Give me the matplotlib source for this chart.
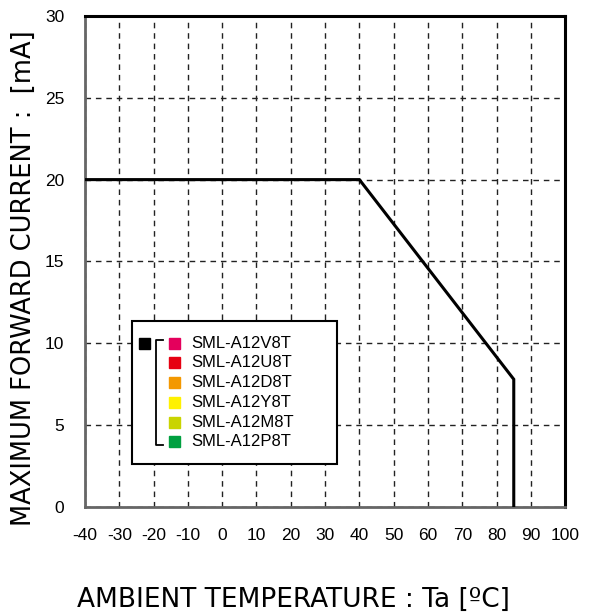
import matplotlib
matplotlib.use("Agg")
import matplotlib.pyplot as plt
from matplotlib.patches import Rectangle

matplotlib.rcParams["axes.unicode_minus"] = False

# derating curve
temp_c = [-40, 40, 85, 85]
current_ma = [20, 20, 7.8, 0]

x_ticks = list(range(-40, 101, 10))
y_ticks = list(range(0, 31, 5))

legend_names = ["SML-A12V8T", "SML-A12U8T", "SML-A12D8T",
                "SML-A12Y8T", "SML-A12M8T", "SML-A12P8T"]
legend_colors = ["#E4005C", "#E60012", "#F39800", "#FFF100", "#C9D400", "#00A040"]

fig = plt.figure(figsize=(5.9, 6.13), dpi=100)
ax = fig.add_axes([0.144, 0.173, 0.814, 0.801])

ax.plot(temp_c, current_ma, color="black", lw=2.2, solid_joinstyle="miter",
        zorder=5)

ax.set_xlim(-40, 100)
ax.set_ylim(0, 30)
ax.set_xticks(x_ticks)
ax.set_yticks(y_ticks)
ax.tick_params(length=0, labelsize=12.5, pad=15)
for lab in ax.get_xticklabels() + ax.get_yticklabels():
    lab.set_family("Liberation Sans")
ax.grid(True, color="#222222", lw=1.0, linestyle=(0, (4, 3.5)))
ax.set_axisbelow(True)

for side in ("top", "right"):
    ax.spines[side].set_linewidth(2.2)
    ax.spines[side].set_color("black")
for side in ("left", "bottom"):
    ax.spines[side].set_linewidth(2.0)
    ax.spines[side].set_color("#666666")

fig.text(0.041, 0.546, "MAXIMUM FORWARD CURRENT :  [mA]", fontsize=18.5,
         rotation=90, ha="center", va="center")
fig.text(0.497, 0.0098, "AMBIENT TEMPERATURE : Ta [ºC]", fontsize=19,
         ha="center", va="baseline")

# legend box drawn by hand (black square + bracket + colour chips)
box = Rectangle((0.098, 0.087), 0.427, 0.291, transform=ax.transAxes,
                facecolor="white", edgecolor="black", lw=1.5, zorder=6)
ax.add_patch(box)
row_y = [0.333, 0.295, 0.254, 0.213, 0.173, 0.134]
sw, sh = 0.023, 0.0224
ax.add_patch(Rectangle((0.1125, row_y[0] - sh / 2), sw, sh,
                       transform=ax.transAxes, color="black", zorder=7))
ax.plot([0.1625, 0.148, 0.148, 0.1625],
        [row_y[0] + 0.008, row_y[0] + 0.008, row_y[-1] - 0.008, row_y[-1] - 0.008],
        transform=ax.transAxes, color="black", lw=1.3, zorder=7)
for yy, name, col in zip(row_y, legend_names, legend_colors):
    ax.add_patch(Rectangle((0.175, yy - sh / 2), sw, sh,
                           transform=ax.transAxes, color=col, zorder=7))
    ax.text(0.221, yy, name, transform=ax.transAxes, fontsize=12,
            family="Liberation Sans", va="center", ha="left", zorder=8)

fig.savefig("out.png", dpi=100)
